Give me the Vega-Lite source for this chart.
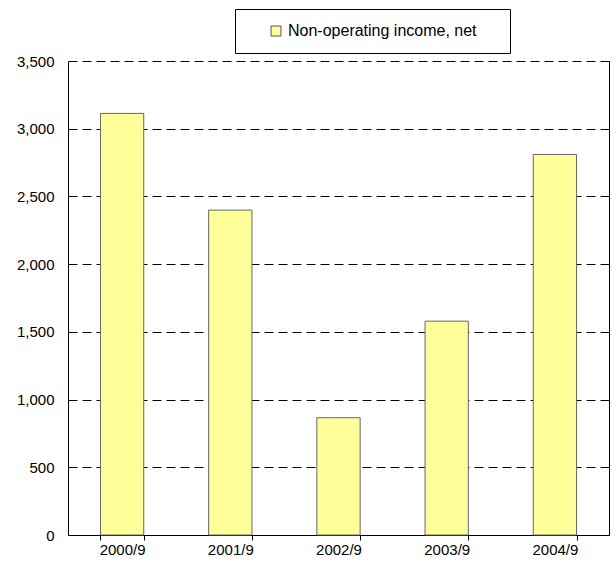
{
  "$schema": "https://vega.github.io/schema/vega-lite/v6.json",
  "width": 541,
  "height": 474,
  "autosize": "none",
  "padding": {"left": 68, "top": 61, "right": 7, "bottom": 34},
  "background": "white",
  "config": {"view": {"stroke": null}, "font": "Liberation Sans"},
  "data": {
    "values": [
      {"period": "2000/9", "value": 3113, "series": "Non-operating income, net"},
      {"period": "2001/9", "value": 2399, "series": "Non-operating income, net"},
      {"period": "2002/9", "value": 866, "series": "Non-operating income, net"},
      {"period": "2003/9", "value": 1579, "series": "Non-operating income, net"},
      {"period": "2004/9", "value": 2810, "series": "Non-operating income, net"}
    ]
  },
  "layer": [
    {
      "mark": {"type": "bar", "stroke": "#666666", "strokeWidth": 1},
      "encoding": {
        "x": {
          "field": "period",
          "type": "nominal",
          "sort": null,
          "scale": {"paddingInner": 0.6, "paddingOuter": 0.3},
          "axis": {
            "title": null,
            "tickBand": "extent",
            "labelAngle": 0,
            "domainColor": "black",
            "tickColor": "black",
            "tickSize": 5,
            "labelPadding": 2,
            "labelFontSize": 15,
            "labelColor": "black",
            "grid": false
          }
        },
        "y": {
          "field": "value",
          "type": "quantitative",
          "scale": {"domain": [0, 3500]},
          "axis": {
            "title": null,
            "values": [0, 500, 1000, 1500, 2000, 2500, 3000, 3500],
            "format": ",.0f",
            "grid": true,
            "gridDash": [9, 5],
            "gridColor": "black",
            "domainColor": "black",
            "ticks": false,
            "tickSize": 0,
            "labelPadding": 14,
            "labelFontSize": 15,
            "labelColor": "black",
            "labelFlush": false
          }
        },
        "color": {
          "field": "series",
          "type": "nominal",
          "scale": {"range": ["#FFFF99"]},
          "legend": {
            "orient": "none",
            "legendX": 167,
            "legendY": -52,
            "title": " ",
            "titleOrient": "right",
            "titlePadding": 19,
            "strokeColor": "black",
            "fillColor": "white",
            "padding": 14,
            "symbolType": "square",
            "symbolSize": 100,
            "symbolStrokeColor": "#555555",
            "symbolStrokeWidth": 1,
            "symbolOffset": 19,
            "labelFontSize": 16,
            "labelLimit": 400,
            "labelColor": "black",
            "labelOffset": 4
          }
        }
      }
    },
    {
      "mark": {"type": "rule", "opacity": 0},
      "encoding": {
        "y": {
          "field": "value",
          "type": "quantitative",
          "scale": {"domain": [0, 3500]},
          "axis": {
            "orient": "right",
            "title": null,
            "labels": false,
            "ticks": false,
            "grid": false,
            "domainColor": "black"
          }
        }
      }
    }
  ],
  "resolve": {"axis": {"y": "independent"}}
}
